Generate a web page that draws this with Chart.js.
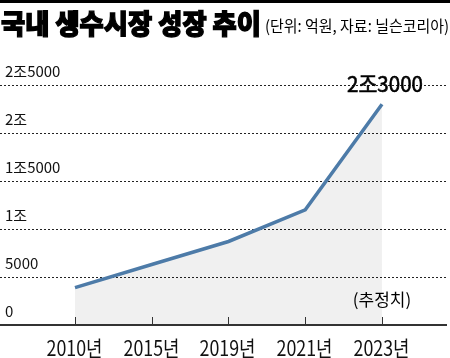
<!DOCTYPE html>
<html><head><meta charset="utf-8">
<script src="https://cdn.jsdelivr.net/npm/chart.js@4"></script>
<style>html,body{margin:0;padding:0;background:#fff}#wrap{width:450px;height:358px;position:relative}#bar{position:absolute;left:0;top:0;width:450px;height:3px;background:#000}</style>
</head><body><div id="wrap"><canvas id="c" width="450" height="358"></canvas><div id="bar"></div></div>
<script>
const titleText = '국내 생수시장 성장 추이';
const subtitleText = '(단위: 억원, 자료: 닐슨코리아)';
const categories = ['2010년', '2015년', '2019년', '2021년', '2023년'];
const values = [3900, 6300, 8700, 12000, 23000];
const yTickValues = [0, 5000, 10000, 15000, 20000, 25000];
const yTickLabels = ['0', '5000', '1조', '1조5000', '2조', '2조5000'];
const endLabel = '2조3000';
const estimateLabel = '(추정치)';

const NARROW = '"Liberation Sans Narrow", "Noto Sans CJK KR", sans-serif';

const overlay = {
  id: 'overlay',
  afterDraw(chart) {
    const ctx = chart.ctx, x = chart.scales.x, y = chart.scales.y, a = chart.chartArea;
    ctx.save();
    // title
    ctx.textBaseline = 'middle';
    ctx.textAlign = 'left';
    ctx.fillStyle = '#000';
    ctx.font = '900 27px "Noto Sans CJK KR", sans-serif';
    ctx.strokeStyle = '#000';
    ctx.lineWidth = 1.3;
    ctx.fillText(titleText, 1, 24, 260);
    ctx.strokeText(titleText, 1, 24, 260);
    ctx.font = '16px "Noto Sans CJK KR", sans-serif';
    ctx.fillText(subtitleText, 265, 26, 184);
    // axis line
    ctx.strokeStyle = '#333';
    ctx.lineWidth = 2;
    ctx.beginPath();
    ctx.moveTo(a.left, y.getPixelForValue(0));
    ctx.lineTo(a.right, y.getPixelForValue(0));
    ctx.stroke();
    // tick marks and labels
    ctx.lineWidth = 1;
    ctx.textAlign = 'center';
    ctx.font = '21px ' + NARROW;
    categories.forEach((c, i) => {
      const px = Math.round(x.getPixelForValue(i)) + 0.5;
      const py = y.getPixelForValue(0);
      ctx.beginPath();
      ctx.moveTo(px, py - 8);
      ctx.lineTo(px, py);
      ctx.stroke();
      ctx.fillStyle = '#111';
      ctx.fillText(c, px - 1, py + 23, 56);
    });
    // annotations
    const last = values.length - 1;
    ctx.font = '22px ' + NARROW;
    ctx.fillStyle = '#000';
    ctx.strokeStyle = '#000';
    ctx.lineWidth = 0.6;
    const ex = x.getPixelForValue(last) + 3, ey = y.getPixelForValue(values[last]) - 21;
    ctx.fillText(endLabel, ex, ey, 76);
    ctx.strokeText(endLabel, ex, ey, 76);
    ctx.font = '17px ' + NARROW;
    ctx.fillText(estimateLabel, x.getPixelForValue(last), y.getPixelForValue(0) - 25);
    ctx.restore();
  }
};

new Chart(document.getElementById('c'), {
  type: 'line',
  data: {
    datasets: [{
      data: values.map((v, i) => ({ x: i, y: v })),
      borderColor: '#4d7ba8',
      borderWidth: 3.5,
      backgroundColor: 'rgba(0,0,0,0.06)',
      fill: 'origin',
      pointRadius: 0,
      tension: 0
    }]
  },
  options: {
    responsive: false,
    animation: false,
    layout: { padding: { top: 85, bottom: 33, left: 0, right: 3 } },
    plugins: { legend: { display: false }, tooltip: { enabled: false } },
    scales: {
      x: {
        type: 'linear', display: false,
        min: -0.977, max: 4.847
      },
      y: {
        min: 0, max: 25000,
        afterBuildTicks: s => { s.ticks = yTickValues.map(v => ({ value: v })); },
        afterFit: s => { s.width = 0; },
        border: { display: false, dash: [2, 2] },
        grid: {
          drawTicks: false,
          color: ctx => ctx.tick && ctx.tick.value === 0 ? 'rgba(0,0,0,0)' : '#222',
          lineWidth: 1
        },
        ticks: {
          mirror: true,
          padding: 5,
          labelOffset: -14,
          color: '#111',
          font: { family: NARROW, size: 15 },
          callback: (v) => yTickLabels[yTickValues.indexOf(v)]
        }
      }
    }
  },
  plugins: [overlay]
});
</script>
</body></html>
